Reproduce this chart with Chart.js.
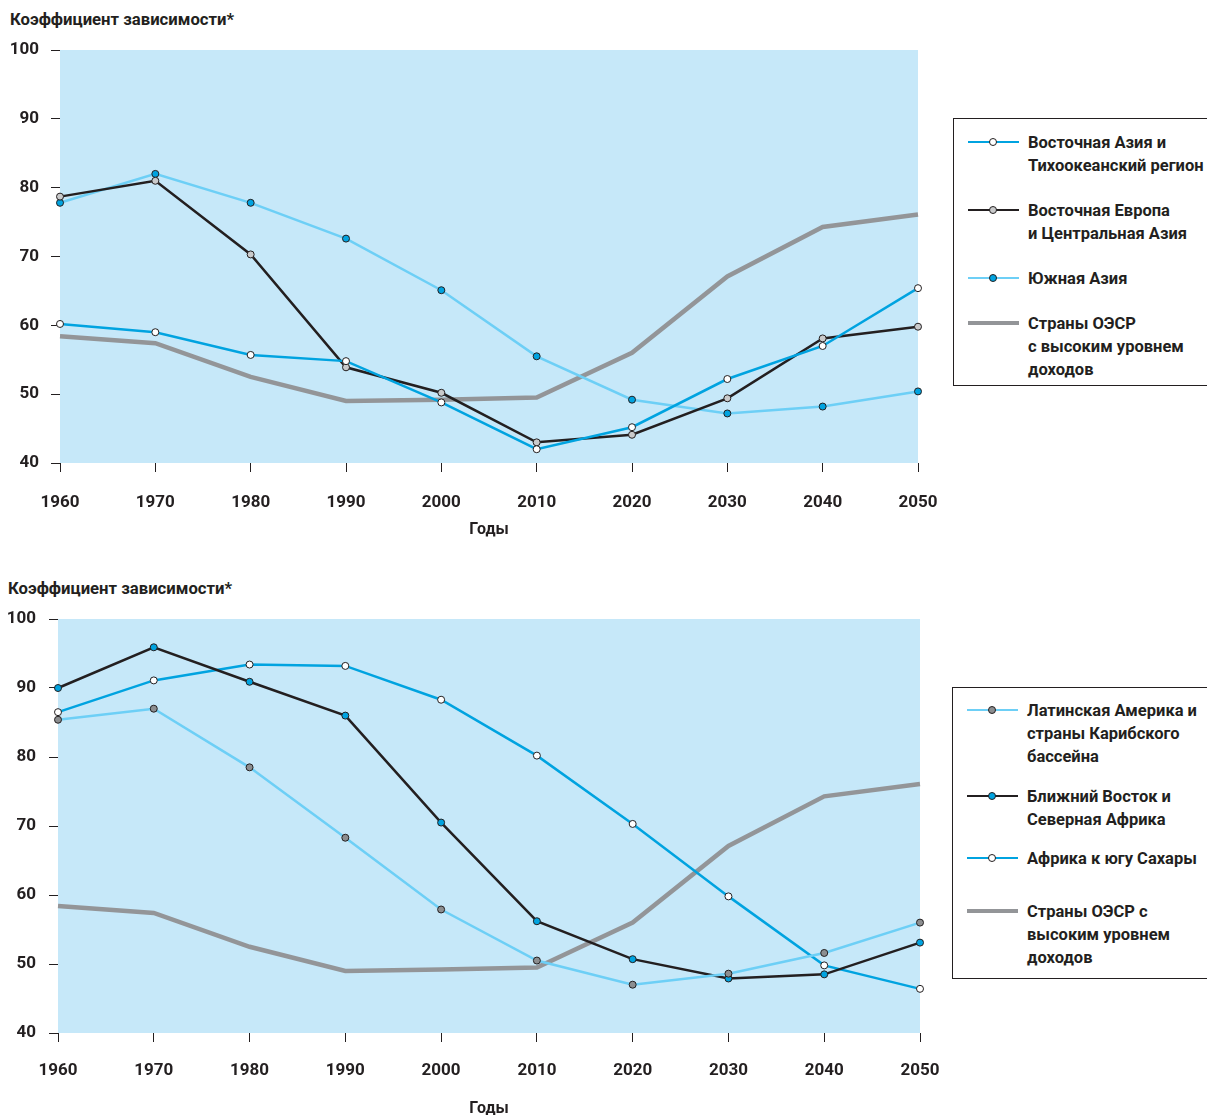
<!DOCTYPE html>
<html>
<head>
<meta charset="utf-8">
<script src="https://cdn.jsdelivr.net/npm/chart.js@4.4.1/dist/chart.umd.min.js"></script>
<style>
  body { margin: 0; width: 1207px; height: 1115px; overflow: hidden; background: #fff;
         font-family: Roboto, "Liberation Sans", sans-serif;
         font-weight: bold; color: #231f20; }
  .wrap { position: absolute; left: 0; width: 940px; height: 545px; }
  .ytitle { position: absolute; font-size: 16.7px; line-height: 20px; white-space: nowrap; }
  .legend { position: absolute; border: 1px solid #231f20; width: 270px; background: #fff; }
  .entry { position: absolute; left: 0; width: 270px; }
  .line { position: absolute; left: 14px; width: 51px; }
  .dot { position: absolute; width: 6px; height: 6px; border: 1px solid #231f20; border-radius: 50%; left: 35px; }
  .txt { position: absolute; left: 74px; font-size: 16.5px; line-height: 23px; white-space: nowrap; }
</style>
</head>
<body>
<div class="ytitle" style="left:10px; top:10px;">Коэффициент зависимости*</div>
<div class="wrap" style="top:0;"><canvas id="chart1" width="940" height="545"></canvas></div>
<div class="legend" id="legend1" style="left:953px; top:118px; height:266px;"></div>

<div class="ytitle" style="left:8px; top:579px;">Коэффициент зависимости*</div>
<div class="wrap" style="top:570px;"><canvas id="chart2" width="940" height="545"></canvas></div>
<div class="legend" id="legend2" style="left:952px; top:687px; height:290px;"></div>

<script>
// годы и значения коэффициента зависимости
const years = ["1960", "1970", "1980", "1990", "2000", "2010", "2020", "2030", "2040", "2050"];

const eastAsiaPacific   = [60.2, 59.0, 55.7, 54.8, 48.8, 42.0, 45.2, 52.2, 57.0, 65.4];
const eastEuropeCAsia   = [78.7, 81.0, 70.3, 53.9, 50.2, 43.0, 44.1, 49.4, 58.1, 59.8];
const southAsia         = [77.8, 82.0, 77.8, 72.6, 65.1, 55.5, 49.2, 47.2, 48.2, 50.4];
const oecdHighIncome    = [58.4, 57.4, 52.5, 49.0, 49.2, 49.5, 56.0, 67.1, 74.3, 76.1];

const latinAmerica      = [85.4, 87.0, 78.5, 68.3, 57.9, 50.5, 47.0, 48.6, 51.6, 56.0];
const middleEastNAfrica = [90.0, 95.9, 90.9, 86.0, 70.5, 56.2, 50.7, 47.9, 48.5, 53.1];
const subSaharanAfrica  = [86.5, 91.1, 93.4, 93.2, 88.3, 80.2, 70.3, 59.8, 49.8, 46.4];

const yTicks = [40, 50, 60, 70, 80, 90, 100];
const xTitle = "Годы";

const BLUE = "#00a3e0", LIGHT = "#6dcff6", BLACK = "#231f20", GREY = "#939598";

function series(label, data, color, width, dot) {
    return {
        label: label, data: data, borderColor: color, borderWidth: width,
        pointRadius: dot ? 3.5 : 0, pointBackgroundColor: dot, pointBorderColor: BLACK,
        pointBorderWidth: 1, tension: 0, clip: false, fill: false, dot: dot
    };
}

const top1 = [
    series(["Восточная Азия и", "Тихоокеанский регион"], eastAsiaPacific, BLUE, 2.5, "#ffffff"),
    series(["Восточная Европа", "и Центральная Азия"], eastEuropeCAsia, BLACK, 2.5, "#c9cacb"),
    series(["Южная Азия"], southAsia, LIGHT, 2.5, BLUE),
    series(["Страны ОЭСР", "с высоким уровнем", "доходов"], oecdHighIncome, GREY, 4.5, null)
];
const top2 = [
    series(["Латинская Америка и", "страны Карибского", "бассейна"], latinAmerica, LIGHT, 2.5, "#8c8e90"),
    series(["Ближний Восток и", "Северная Африка"], middleEastNAfrica, BLACK, 2.5, BLUE),
    series(["Африка к югу Сахары"], subSaharanAfrica, BLUE, 2.5, "#ffffff"),
    series(["Страны ОЭСР с", "высоким уровнем", "доходов"], oecdHighIncome, GREY, 4.5, null)
];

const plotBg = {
    id: "plotBg",
    beforeDraw(chart) {
        const a = chart.chartArea, c = chart.ctx;
        c.save();
        c.fillStyle = "#c6e8f9";
        c.fillRect(a.left, a.top, a.right - a.left, a.bottom - a.top);
        c.restore();
    }
};

const FONT = "Roboto, 'Liberation Sans', sans-serif";

function makeChart(id, datasets, g) {
    new Chart(document.getElementById(id), {
        type: "line",
        data: { labels: years, datasets: datasets },
        plugins: [plotBg],
        options: {
            responsive: false,
            animation: false,
            devicePixelRatio: 1,
            layout: { padding: { top: g.top, right: g.right, left: 0, bottom: 0 } },
            plugins: { legend: { display: false }, tooltip: { enabled: false } },
            scales: {
                x: {
                    type: "category",
                    offset: false,
                    afterFit: s => { s.height = g.xh; s.paddingLeft = 0; s.paddingRight = 0; },
                    border: { display: false },
                    grid: { drawOnChartArea: false, drawTicks: true, tickLength: 9, color: BLACK, lineWidth: 1 },
                    ticks: { color: BLACK, padding: g.xpad, maxRotation: 0, autoSkip: false,
                             font: { family: FONT, size: 17, weight: "bold" } },
                    title: { display: true, text: xTitle, color: BLACK,
                             padding: { top: 0, bottom: g.tpad },
                             font: { family: FONT, size: 16, weight: "bold", lineHeight: 1 } }
                },
                y: {
                    min: 40, max: 100,
                    afterFit: s => { s.width = g.yw; s.paddingTop = 0; s.paddingBottom = 0; },
                    afterBuildTicks: s => { s.ticks = yTicks.map(v => ({ value: v })); },
                    border: { display: false },
                    grid: { drawOnChartArea: false, drawTicks: true, tickLength: 9, color: BLACK, lineWidth: 1 },
                    ticks: { color: BLACK, padding: g.ypad,
                             font: { family: FONT, size: 17, weight: "bold" } }
                }
            }
        }
    });
}

makeChart("chart1", top1, { top: 50, right: 22, xh: 82, yw: 60, xpad: 21, ypad: 12, tpad: 7 });
makeChart("chart2", top2, { top: 49, right: 20, xh: 82, yw: 58, xpad: 19, ypad: 13, tpad: -2 });

function buildLegend(id, datasets, ys) {
    const box = document.getElementById(id);
    datasets.forEach((d, i) => {
        const e = document.createElement("div");
        e.className = "entry";
        e.style.top = ys[i] + "px";
        const ln = document.createElement("div");
        ln.className = "line";
        ln.style.height = d.borderWidth + "px";
        ln.style.top = (-d.borderWidth / 2) + "px";
        ln.style.background = d.borderColor;
        e.appendChild(ln);
        if (d.dot) {
            const dt = document.createElement("div");
            dt.className = "dot";
            dt.style.top = "-4px";
            dt.style.background = d.dot;
            e.appendChild(dt);
        }
        const t = document.createElement("div");
        t.className = "txt";
        t.style.top = "-11.5px";
        t.innerHTML = d.label.join("<br>");
        e.appendChild(t);
        box.appendChild(e);
    });
}

buildLegend("legend1", top1, [23, 91, 159, 204]);
buildLegend("legend2", top2, [22, 108, 170, 223]);
</script>
</body>
</html>
